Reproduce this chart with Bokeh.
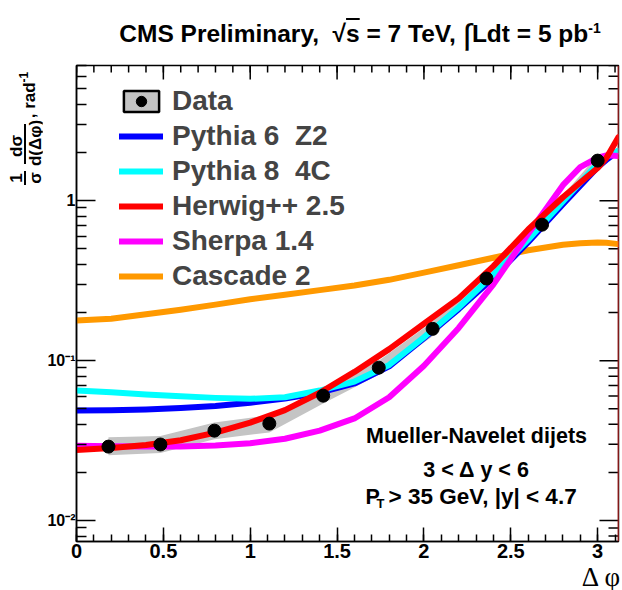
import numpy as np
from bokeh.plotting import figure
from bokeh.layouts import column, row
from bokeh.models import Label, Legend, LegendItem, FixedTicker, Range1d, Span, Div
from bokeh.embed import file_html
from bokeh.resources import INLINE

# ---------------- data ----------------
data_x = [0.184, 0.483, 0.794, 1.11, 1.42, 1.74, 2.05, 2.36, 2.68, 3.00]
data_y = [0.0290, 0.0299, 0.0365, 0.0404, 0.0604, 0.0904, 0.158, 0.326, 0.708, 1.78]
band_lo = [0.0256, 0.0265, 0.0323, 0.0356, 0.0540, 0.0815, 0.142, 0.296, 0.655, 1.65]
band_hi = [0.0332, 0.0338, 0.0410, 0.0456, 0.0672, 0.1000, 0.175, 0.358, 0.765, 1.92]

curve_x = [0.0, 0.2, 0.4, 0.6, 0.8, 1.0, 1.2, 1.4, 1.6, 1.8, 2.0, 2.2, 2.4, 2.6, 2.8, 2.9, 3.0, 3.05, 3.12]
pythia6 = [0.0487, 0.0490, 0.0495, 0.0505, 0.0520, 0.0545, 0.0580, 0.0630, 0.072, 0.092,
           0.138, 0.210, 0.330, 0.550, 0.950, 1.24, 1.62, 1.80, 2.05]
pythia8 = [0.0650, 0.0635, 0.0615, 0.0598, 0.0585, 0.0577, 0.0590, 0.0650, 0.074, 0.094,
           0.140, 0.215, 0.345, 0.570, 0.990, 1.30, 1.70, 1.88, 2.05]
herwig = [0.0276, 0.0284, 0.0297, 0.0318, 0.0355, 0.0410, 0.0490, 0.0630, 0.085, 0.118,
          0.170, 0.245, 0.390, 0.660, 1.05, 1.30, 1.60, 1.85, 2.50]
sherpa = [0.0294, 0.0292, 0.0290, 0.0291, 0.0295, 0.0304, 0.0325, 0.0365, 0.0435, 0.059,
          0.093, 0.160, 0.300, 0.620, 1.25, 1.62, 1.86, 1.92, 1.90]
cascade = [0.178, 0.183, 0.195, 0.208, 0.224, 0.242, 0.258, 0.276, 0.295, 0.320,
           0.355, 0.395, 0.440, 0.490, 0.530, 0.542, 0.548, 0.546, 0.535]

series_names = ["Pythia 6\u00a0\u00a0Z2", "Pythia 8\u00a0\u00a04C", "Herwig++ 2.5",
                "Sherpa 1.4", "Cascade 2"]
series_colors = ["#0000ff", "#00ffff", "#ff0000", "#ff00ff", "#ff9900"]

x_ticks = [0, 0.5, 1, 1.5, 2, 2.5, 3]
x_tick_labels = ["0", "0.5", "1", "1.5", "2", "2.5", "3"]
y_ticks = [0.01, 0.1, 1]
y_tick_labels = ["10\u207b\u00b2", "10\u207b\u00b9", "1"]

FONT = "Liberation Sans"
W, H = 622, 590
TITLE_H, XLAB_H, YLAB_W = 50, 24, 42
FIG_W, FIG_H = W - YLAB_W, H - TITLE_H - XLAB_H
FRAME_L, FRAME_R, FRAME_T, FRAME_B = 76, 618, 65, 541   # canvas coordinates
X0, X1 = 0.0, 3.12
Y0, Y1 = 0.0074, 7.0

p = figure(width=FIG_W, height=FIG_H, x_range=Range1d(X0, X1), y_range=Range1d(Y0, Y1),
           y_axis_type="log", output_backend="svg", toolbar_location=None,
           min_border_left=FRAME_L - YLAB_W, min_border_right=W - FRAME_R,
           min_border_top=FRAME_T - TITLE_H, min_border_bottom=TITLE_H + FIG_H - FRAME_B,
           margin=0)
p.xgrid.visible = False
p.ygrid.visible = False
p.outline_line_color = "black"
p.outline_line_width = 1.5
p.background_fill_color = "white"
p.border_fill_color = "white"

x_minor = [round(0.1 * i, 1) for i in range(32)]
y_minor = [0.008, 0.009] + [k * 0.01 for k in range(2, 10)] + [k * 0.1 for k in range(2, 10)] + [2, 3, 4, 5, 6, 7]


def style_axis(ax, major_in, minor_in, size):
    ax.major_tick_in = major_in
    ax.major_tick_out = 0
    ax.minor_tick_in = minor_in
    ax.minor_tick_out = 0
    ax.axis_line_color = "black"
    ax.axis_line_width = 1.5
    ax.major_tick_line_width = 1.5
    ax.minor_tick_line_width = 1.5
    ax.major_tick_line_color = "black"
    ax.minor_tick_line_color = "black"
    ax.major_label_text_font = FONT
    ax.major_label_text_font_style = "bold"
    ax.major_label_text_color = "black"
    ax.major_label_text_font_size = size


xa = p.xaxis[0]
xa.ticker = FixedTicker(ticks=x_ticks, minor_ticks=x_minor)
xa.major_label_overrides = dict(zip(x_ticks, x_tick_labels))
style_axis(xa, 14, 7, "20px")
xa.major_label_standoff = 2

ya = p.yaxis[0]
ya.ticker = FixedTicker(ticks=y_ticks, minor_ticks=y_minor)
ya.major_label_overrides = dict(zip(y_ticks, y_tick_labels))
style_axis(ya, 19, 10, "16px")
ya.major_label_standoff = 1

# mirrored ticks on the top and right edges of the frame (ROOT style)
px_per_x = (FRAME_R - FRAME_L) / (X1 - X0)
px_per_dec = (FRAME_B - FRAME_T) / (np.log10(Y1) - np.log10(Y0))


def top_ticks(xs, length):
    y_in = Y1 * 10 ** (-length / px_per_dec)
    p.segment(x0=xs, x1=xs, y0=[Y1] * len(xs), y1=[y_in] * len(xs),
              line_color="black", line_width=1.5)


def right_ticks(ys, length):
    x_in = X1 - length / px_per_x
    p.segment(x0=[X1] * len(ys), x1=[x_in] * len(ys), y0=ys, y1=ys,
              line_color="black", line_width=1.5)


top_ticks(x_minor, 7)
top_ticks(x_ticks, 14)
right_ticks(y_minor, 10)
right_ticks(y_ticks, 19)

# ---------------- glyphs ----------------
p.varea(x=data_x, y1=band_lo, y2=band_hi, fill_color="#c4c4c4")
curves = [pythia6, pythia8, herwig, sherpa, cascade]
draw_order = [4, 0, 1, 3, 2]
rends = {}
for i in draw_order:
    rends[i] = p.line(curve_x, curves[i], line_color=series_colors[i], line_width=6,
                      line_join="round", line_cap="round")
dots = p.scatter(data_x, data_y, size=13, color="black")
# legend proxy for the data box (no visible mark in the plot)
box = p.quad(left=[np.nan], right=[np.nan], top=[np.nan], bottom=[np.nan],
             fill_color="#c4c4c4", line_color="black", line_width=2.5)

p.add_layout(Span(location=X1, dimension="height", line_color="#ff3030", line_width=1.5))

items = [LegendItem(label="Data", renderers=[box, dots])]
for i in range(5):
    items.append(LegendItem(label=series_names[i], renderers=[rends[i]]))

legend = Legend(items=items, location=(43, 249), padding=0, margin=0, spacing=3,
                glyph_width=44, glyph_height=26, label_height=26, label_standoff=9,
                label_text_font=FONT, label_text_font_size="28px",
                label_text_font_style="bold", border_line_alpha=0,
                background_fill_alpha=0)
p.add_layout(legend)


def lab(text, cx, cy, size, align="center", baseline="middle", style="bold"):
    return Label(x=cx - FRAME_L, y=FRAME_B - cy, x_units="screen", y_units="screen",
                 text=text, text_font=FONT, text_font_size=f"{size}px",
                 text_font_style=style, text_align=align, text_baseline=baseline,
                 text_color="black")


for l in [
    lab("Mueller-Navelet dijets", 476, 435, 21.5),
    lab("3 < \u0394 y < 6", 476, 469, 21.5),
    lab("P", 365, 496, 21.5, align="left"),
    lab("T", 376, 503, 13, align="left"),
    lab("> 35 GeV, |y| < 4.7", 388, 496, 22.5, align="left"),
]:
    p.add_layout(l)

# ---------------- texts outside the frame (HTML) ----------------
BASE = "position:absolute;white-space:nowrap;line-height:1;color:black;font-family:'Liberation Sans',Arial,sans-serif;font-weight:bold;"


def at(cx, cy, html, size, extra="", rot=False):
    tr = "translate(-50%,-50%)" + (" rotate(-90deg)" if rot else "")
    return (f'<span style="{BASE}left:{cx}px;top:{cy}px;font-size:{size}px;'
            f'transform:{tr};{extra}">{html}</span>')


def bar(cx, top, length):
    return (f'<span style="position:absolute;left:{cx - 1}px;top:{top}px;width:2px;'
            f'height:{length}px;background:black;"></span>')


title_html = at(360, 36,
                'CMS Preliminary,&nbsp;&nbsp;&radic;<span style="text-decoration:overline">s</span>'
                ' = 7 TeV, <span style="font-size:34px;font-weight:normal;vertical-align:-6px">&int;</span>'
                'Ldt = 5 pb<sup style="font-size:14px">-1</sup>', 24.5)
title_div = Div(text=f'<div style="position:relative;width:{W}px;height:{TITLE_H}px">{title_html}</div>',
                width=W, height=TITLE_H, margin=0)

oy = TITLE_H  # y offset of the side column
ylab_parts = [
    at(16, 146 - oy, "d&sigma;", 17, rot=True),
    bar(25, 124 - oy, 40),
    at(35, 143 - oy, "d(&Delta;&phi;)", 17, rot=True),
    at(16, 178 - oy, "1", 17, rot=True),
    bar(25, 171 - oy, 14),
    at(35, 178 - oy, "&sigma;", 17, rot=True),
    at(28, 95 - oy, ', rad<sup style="font-size:12px">-1</sup>', 17, rot=True),
]
ylab_div = Div(text=f'<div style="position:relative;width:{YLAB_W}px;height:{FIG_H}px">{"".join(ylab_parts)}</div>',
               width=YLAB_W, height=FIG_H, margin=0)

oxy = TITLE_H + FIG_H
xlab_html = (f'<span style="position:absolute;white-space:nowrap;line-height:1;right:2px;'
             f'top:{577 - oxy}px;transform:translateY(-50%);font-family:\'Liberation Serif\',serif;'
             f'font-size:27px;color:black">&Delta; &phi;</span>')
xlab_div = Div(text=f'<div style="position:relative;width:{W}px;height:{XLAB_H}px">{xlab_html}</div>',
               width=W, height=XLAB_H, margin=0)

layout = column(title_div, row(ylab_div, p, spacing=0, margin=0), xlab_div, spacing=0, margin=0)

open("out.html", "w").write(file_html(layout, INLINE))
